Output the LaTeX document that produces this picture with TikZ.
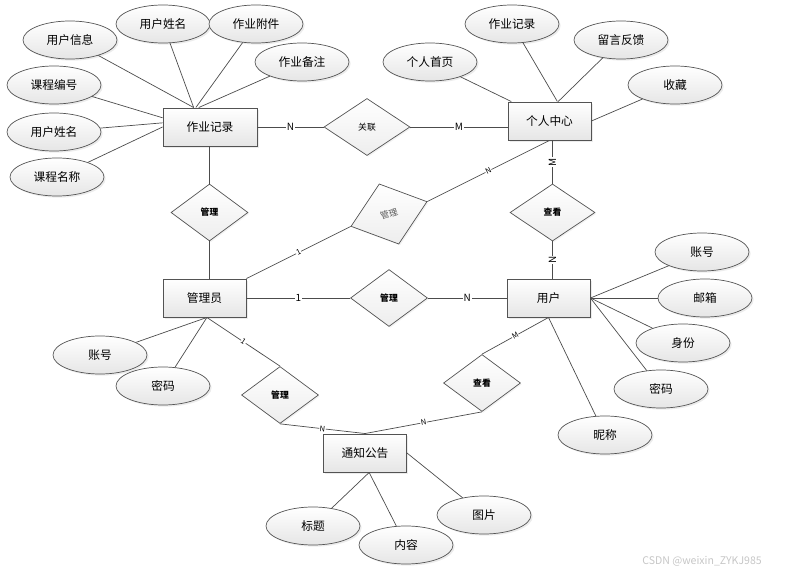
\documentclass[tikz,border=0pt]{standalone}
\usepackage{fontspec}
\setmainfont{Noto Sans CJK SC}
\usepackage{tikz}
\usetikzlibrary{shapes.geometric,shadows}

\begin{document}
\begin{tikzpicture}[x=0.3mm, y=-0.3mm,
		line/.style={draw=gray!60!black, line width=0.6pt},
		entity/.style={rectangle, draw=gray!65!black, line width=0.8pt, top color=white, bottom color=gray!20, drop shadow={shadow xshift=0.5mm, shadow yshift=-0.5mm, fill=gray!30}, minimum width=24.9mm, minimum height=11.4mm, inner sep=0pt, font=\fontsize{10}{12}\selectfont},
		attr/.style={ellipse, draw=gray!65!black, line width=0.6pt, top color=white, bottom color=gray!20, drop shadow={shadow xshift=0.5mm, shadow yshift=-0.5mm, fill=gray!30}, minimum width=28.2mm, minimum height=11.4mm, inner sep=0pt, font=\fontsize{10}{12}\selectfont},
		relation/.style={diamond, draw=gray!65!black, line width=0.6pt, top color=white, bottom color=gray!14, drop shadow={shadow xshift=0.4mm, shadow yshift=-0.4mm, fill=gray!20}, minimum width=23.1mm, minimum height=17.1mm, inner sep=0pt, font=\fontsize{7.5}{9}\selectfont\bfseries},
		card/.style={fill=white, inner sep=0.6pt, font=\fontsize{8.5}{10}\selectfont},
		cardsmall/.style={fill=white, inner sep=0.4pt, font=\fontsize{6.5}{8}\selectfont}]
		\useasboundingbox (0,0) rectangle (801,575);
		\draw
		node[entity, minimum width=28.2mm] (zyjl) at (210,127) {作业记录}
		node[entity] (grzx) at (549.5,121) {个人中心}
		node[entity] (gly) at (204.5,298) {管理员}
		node[entity] (yh) at (548.5,298) {用户}
		node[entity] (tzgg) at (365,453) {通知公告};
		\draw
		node[relation, font=\fontsize{7.5}{9}\selectfont, minimum width=25.8mm] (gl) at (367,127) {关联}
		node[relation] (gl1) at (209.5,212.5) {管理}
		node[relation, rotate=18, minimum width=24mm, minimum height=19mm, font=\fontsize{7.5}{9}\selectfont, text=gray!70!black] (gl2) at (389,214) {管理}
		node[relation] (gl3) at (389,298) {管理}
		node[relation, minimum width=25.5mm] (ck1) at (552.5,212.5) {查看}
		node[relation] (gl4) at (280,395) {管理}
		node[relation] (ck2) at (482,383) {查看};
		\draw
		node[attr] (yhxx) at (70,40) {用户信息}
		node[attr] (yhxm1) at (163,24) {用户姓名}
		node[attr] (zyfj) at (256,24) {作业附件}
		node[attr] (zybz) at (302,62) {作业备注}
		node[attr] (kcbh) at (54,85) {课程编号}
		node[attr] (yhxm2) at (54,132) {用户姓名}
		node[attr] (kcmc) at (57,177) {课程名称}
		node[attr] (grsy) at (430,62) {个人首页}
		node[attr] (zyjl2) at (512,24) {作业记录}
		node[attr] (lyfk) at (621,40) {留言反馈}
		node[attr] (sc) at (675,85) {收藏}
		node[attr] (zh1) at (100,355) {账号}
		node[attr] (mm1) at (163,386) {密码}
		node[attr] (zh2) at (702,252) {账号}
		node[attr] (yx) at (705,298) {邮箱}
		node[attr] (sf) at (683,343) {身份}
		node[attr] (mm2) at (661,389) {密码}
		node[attr] (nc) at (605,435) {昵称}
		node[attr] (bt) at (313,526) {标题}
		node[attr] (nr) at (406,545) {内容}
		node[attr] (tp) at (484,515) {图片};
		\draw [line] (yhxx) -- (zyjl.130);
		\draw [line] (yhxm1) -- (zyjl.130);
		\draw [line] (zyfj) -- (zyjl.126);
		\draw [line] (zybz) -- (zyjl.120);
		\draw [line] (kcbh) -- (zyjl.169);
		\draw [line] (yhxm2) -- (zyjl.175);
		\draw [line] (kcmc) -- (zyjl.west);
		\draw [line] (grsy) -- (grzx.153);
		\draw [line] (zyjl2) -- (grzx.68);
		\draw [line] (lyfk) -- (grzx.66);
		\draw [line] (sc) -- (grzx.east);
		\draw [line] (zh1) -- (gly.-83);
		\draw [line] (mm1) -- (gly.-83);
		\draw [line] (zh2) -- (yh.east);
		\draw [line] (yx) -- (yh.east);
		\draw [line] (sf) -- (yh.east);
		\draw [line] (mm2) -- (yh.east);
		\draw [line] (nc) -- (yh.south);
		\draw [line] (bt) -- (tzgg.-78);
		\draw [line] (nr) -- (tzgg.-78);
		\draw [line] (tp) -- (tzgg.east);
		\draw [line] (zyjl.east) -- (gl.west) node[midway, card] {N};
		\draw [line] (gl.east) -- (gl.east -| grzx.west) node[midway, card] {M};
		\draw [line] (ck1.north) -- (ck1.north |- grzx.south) node[midway, card, rotate=90] {M};
		\draw [line] (ck1.south) -- (ck1.south |- yh.north) node[midway, card, rotate=90] {N};
		\draw [line] (grzx.south) -- (gl2.east) node[midway, cardsmall, sloped] {N};
		\draw [line] (gl2.west) -- (gly.north east) node[midway, cardsmall, sloped] {1};
		\draw [line] (gl1.north) -- (gl1.north |- zyjl.south);
		\draw [line] (gl1.south) -- (gl1.south |- gly.north);
		\draw [line] (gly.east) -- (gl3.west) node[midway, card] {1};
		\draw [line] (gl3.east) -- (yh.west) node[midway, card] {N};
		\draw [line] (gly.-83) -- (gl4.north) node[midway, cardsmall, sloped] {1};
		\draw [line] (gl4.south) -- (tzgg.north) node[midway, cardsmall, sloped] {N};
		\draw [line] (yh.south) -- (ck2.north) node[midway, cardsmall, sloped] {M};
		\draw [line] (ck2.south) -- (tzgg.north) node[midway, cardsmall, sloped] {N};
		\node[text=gray!45, font=\fontsize{9}{11}\selectfont] (mark) at (702,561) {CSDN @weixin\_ZYKJ985};
\end{tikzpicture}
\end{document}
